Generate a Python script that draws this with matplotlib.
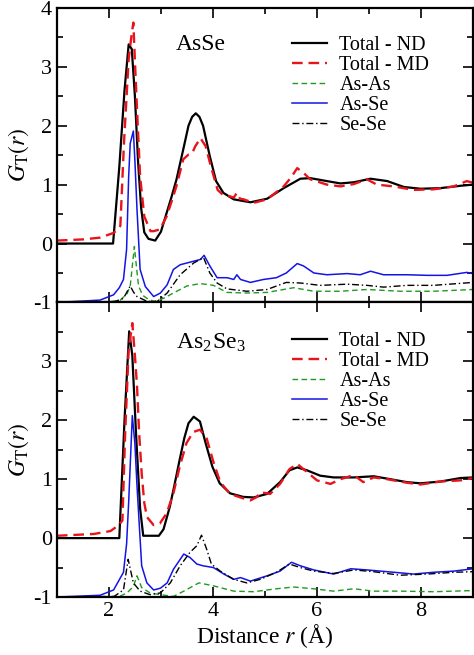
import matplotlib
matplotlib.use("Agg")
import matplotlib.pyplot as plt
from matplotlib.ticker import MultipleLocator

plt.rcParams['font.family'] = ['Liberation Serif', 'DejaVu Serif']
plt.rcParams['mathtext.fontset'] = 'stix'
plt.rcParams['axes.unicode_minus'] = False

# ---------------- Top panel: AsSe ----------------
r_nd1 = [1.0, 2.08, 2.2, 2.3, 2.38, 2.44, 2.50, 2.56, 2.62, 2.68, 2.76, 2.89, 3.0, 3.11, 3.20, 3.30, 3.43, 3.53, 3.60, 3.67, 3.74, 3.81, 3.94, 4.06, 4.20, 4.40, 4.72, 5.04, 5.36, 5.68, 5.87, 6.19, 6.45, 6.71, 7.03, 7.35, 7.67, 7.99, 8.37, 8.76, 9.0]
g_nd1 = [0.0, 0.0, 1.3, 2.6, 3.38, 3.3, 2.5, 1.4, 0.6, 0.19, 0.08, 0.05, 0.2, 0.52, 0.78, 1.09, 1.6, 2.0, 2.15, 2.21, 2.15, 2.0, 1.48, 1.06, 0.86, 0.75, 0.70, 0.76, 0.94, 1.10, 1.11, 1.06, 1.02, 1.04, 1.10, 1.06, 0.96, 0.93, 0.94, 0.98, 1.0]

r_md1 = [1.0, 1.5, 1.83, 2.09, 2.17, 2.22, 2.29, 2.38, 2.43, 2.47, 2.50, 2.54, 2.60, 2.68, 2.80, 2.86, 2.98, 3.11, 3.20, 3.30, 3.43, 3.53, 3.60, 3.66, 3.76, 3.86, 3.96, 4.09, 4.20, 4.33, 4.40, 4.46, 4.52, 4.59, 4.78, 5.04, 5.36, 5.50, 5.62, 5.74, 5.87, 6.19, 6.45, 6.71, 6.96, 7.15, 7.47, 7.86, 8.24, 8.63, 8.88, 9.0]
g_md1 = [0.05, 0.07, 0.1, 0.18, 0.24, 0.3, 1.71, 3.13, 3.5, 3.75, 3.1, 2.28, 1.14, 0.46, 0.21, 0.21, 0.24, 0.46, 0.7, 0.98, 1.43, 1.51, 1.53, 1.65, 1.79, 1.65, 1.31, 0.91, 0.82, 0.80, 0.78, 0.86, 0.76, 0.75, 0.69, 0.75, 0.97, 1.12, 1.28, 1.2, 1.09, 1.0, 0.97, 1.01, 1.09, 1.0, 0.97, 0.91, 0.92, 0.97, 1.06, 1.03]

r_asas1 = [1.0, 2.0, 2.22, 2.35, 2.41, 2.46, 2.49, 2.53, 2.57, 2.65, 2.73, 2.86, 3.05, 3.24, 3.50, 3.76, 4.01, 4.27, 4.65, 5.04, 5.55, 5.94, 6.45, 6.96, 7.60, 8.24, 9.0]
g_asas1 = [-1.0, -0.99, -0.96, -0.85, -0.72, -0.3, -0.05, -0.4, -0.72, -0.88, -0.93, -0.98, -0.93, -0.84, -0.72, -0.68, -0.71, -0.83, -0.84, -0.83, -0.75, -0.81, -0.81, -0.78, -0.81, -0.81, -0.78]

r_asse1 = [1.0, 1.83, 2.09, 2.20, 2.28, 2.34, 2.38, 2.41, 2.47, 2.50, 2.54, 2.60, 2.70, 2.86, 2.99, 3.12, 3.24, 3.37, 3.50, 3.63, 3.76, 3.83, 3.94, 4.08, 4.27, 4.40, 4.46, 4.53, 4.72, 4.97, 5.22, 5.41, 5.62, 5.74, 5.94, 6.19, 6.58, 6.83, 7.03, 7.28, 7.73, 8.12, 8.50, 8.88, 9.0]
g_asse1 = [-1.0, -0.96, -0.87, -0.75, -0.61, -0.1, 1.14, 1.7, 1.91, 1.4, 0.58, -0.44, -0.73, -0.9, -0.84, -0.70, -0.44, -0.36, -0.33, -0.30, -0.27, -0.2, -0.38, -0.58, -0.58, -0.61, -0.53, -0.61, -0.66, -0.61, -0.58, -0.50, -0.34, -0.38, -0.50, -0.53, -0.51, -0.53, -0.47, -0.53, -0.53, -0.54, -0.54, -0.49, -0.51]

r_sese1 = [1.0, 2.1, 2.28, 2.36, 2.41, 2.47, 2.54, 2.73, 2.92, 3.12, 3.37, 3.63, 3.82, 3.94, 4.08, 4.27, 4.65, 5.04, 5.41, 5.68, 6.06, 6.58, 6.96, 7.28, 7.73, 8.24, 9.0]
g_sese1 = [-1.0, -0.99, -0.93, -0.8, -0.72, -0.82, -0.9, -0.98, -0.99, -0.84, -0.53, -0.33, -0.24, -0.5, -0.67, -0.77, -0.81, -0.78, -0.66, -0.67, -0.71, -0.69, -0.71, -0.74, -0.71, -0.71, -0.66]

# ---------------- Bottom panel: As2Se3 ----------------
r_nd2 = [1.0, 2.20, 2.30, 2.39, 2.45, 2.52, 2.60, 2.66, 2.96, 3.05, 3.17, 3.26, 3.36, 3.45, 3.53, 3.63, 3.75, 3.86, 3.99, 4.13, 4.33, 4.58, 4.78, 5.04, 5.29, 5.47, 5.62, 5.81, 6.06, 6.32, 6.71, 7.09, 7.41, 7.73, 7.99, 8.37, 8.76, 9.0]
g_nd2 = [0.0, 0.0, 2.0, 3.51, 3.1, 1.8, 0.5, 0.04, 0.04, 0.15, 0.53, 0.9, 1.33, 1.7, 1.95, 2.06, 1.98, 1.61, 1.21, 0.93, 0.76, 0.70, 0.69, 0.75, 0.95, 1.15, 1.20, 1.15, 1.06, 1.03, 1.03, 1.05, 1.0, 0.95, 0.93, 0.96, 1.02, 1.03]

r_md2 = [1.0, 1.71, 2.03, 2.19, 2.26, 2.31, 2.38, 2.45, 2.50, 2.54, 2.58, 2.63, 2.68, 2.73, 2.86, 2.98, 3.11, 3.24, 3.36, 3.49, 3.62, 3.75, 3.88, 4.01, 4.14, 4.33, 4.53, 4.72, 4.85, 4.91, 5.10, 5.29, 5.47, 5.62, 5.81, 6.00, 6.26, 6.45, 6.71, 6.89, 7.09, 7.35, 7.73, 7.99, 8.37, 8.76, 9.0]
g_md2 = [0.04, 0.07, 0.12, 0.22, 0.3, 1.72, 3.2, 3.65, 3.1, 2.59, 1.8, 1.1, 0.6, 0.36, 0.22, 0.25, 0.42, 0.76, 1.21, 1.61, 1.8, 1.84, 1.69, 1.29, 0.95, 0.75, 0.69, 0.64, 0.7, 0.78, 0.75, 0.92, 1.17, 1.26, 1.12, 0.98, 0.92, 1.0, 1.07, 0.95, 1.03, 1.0, 0.94, 0.91, 0.96, 0.98, 1.02]

r_asas2 = [1.0, 2.2, 2.35, 2.47, 2.54, 2.63, 2.79, 2.99, 3.24, 3.44, 3.73, 4.01, 4.40, 4.78, 5.22, 5.55, 5.94, 6.32, 6.71, 7.09, 7.60, 8.24, 9.0]
g_asas2 = [-1.0, -0.99, -0.93, -0.82, -0.64, -0.84, -0.93, -0.96, -0.99, -0.90, -0.76, -0.81, -0.90, -0.91, -0.86, -0.83, -0.86, -0.90, -0.86, -0.90, -0.90, -0.91, -0.89]

r_asse2 = [1.0, 1.83, 2.09, 2.28, 2.34, 2.38, 2.45, 2.50, 2.54, 2.63, 2.73, 2.86, 2.99, 3.12, 3.24, 3.44, 3.56, 3.69, 3.81, 4.01, 4.21, 4.40, 4.53, 4.72, 5.04, 5.29, 5.51, 5.68, 5.94, 6.32, 6.65, 6.96, 7.35, 7.86, 8.24, 8.63, 9.0]
g_asse2 = [-1.0, -0.97, -0.88, -0.58, -0.1, 0.61, 2.08, 1.6, 0.89, -0.47, -0.76, -0.88, -0.85, -0.76, -0.53, -0.27, -0.33, -0.44, -0.47, -0.5, -0.61, -0.70, -0.67, -0.73, -0.64, -0.56, -0.41, -0.47, -0.54, -0.61, -0.52, -0.54, -0.57, -0.61, -0.58, -0.56, -0.52]

r_sese2 = [1.0, 2.1, 2.28, 2.37, 2.47, 2.60, 2.79, 2.99, 3.18, 3.37, 3.56, 3.69, 3.78, 3.88, 3.97, 4.14, 4.40, 4.65, 4.91, 5.22, 5.47, 5.68, 5.94, 6.32, 6.71, 7.09, 7.60, 8.12, 8.63, 9.0]
g_sese2 = [-1.0, -0.99, -0.88, -0.36, -0.76, -0.90, -0.96, -0.93, -0.76, -0.47, -0.24, -0.13, 0.05, -0.19, -0.44, -0.56, -0.70, -0.76, -0.70, -0.58, -0.44, -0.50, -0.56, -0.60, -0.54, -0.57, -0.63, -0.61, -0.58, -0.57]

labels = ['Total - ND', 'Total - MD', 'As-As', 'As-Se', 'Se-Se']
titles = ['AsSe', r'As$_{\mathregular{2}}$Se$_{\mathregular{3}}$']

fig = plt.figure(figsize=(4.74, 6.55), dpi=100)
axes = fig.subplots(2, 1, sharex=True, gridspec_kw=dict(hspace=0))
fig.subplots_adjust(left=0.120, right=0.998, top=0.988, bottom=0.0885)

panels = [
    (r_nd1, g_nd1, r_md1, g_md1, r_asas1, g_asas1, r_asse1, g_asse1, r_sese1, g_sese1),
    (r_nd2, g_nd2, r_md2, g_md2, r_asas2, g_asas2, r_asse2, g_asse2, r_sese2, g_sese2),
]

for i, (ax, p) in enumerate(zip(axes, panels)):
    ax.plot(p[0], p[1], color='black', lw=1.6, label=labels[0])
    ax.plot(p[2], p[3], color='#e8141c', lw=1.7, ls=(0, (4.5, 2.5)), label=labels[1])
    ax.plot(p[4], p[5], color='#1f9a1f', lw=1.0, ls=(0, (4, 2.5)), label=labels[2])
    ax.plot(p[6], p[7], color='#1414e6', lw=1.1, label=labels[3])
    ax.plot(p[8], p[9], color='black', lw=1.0, ls=(0, (5, 2, 1, 2)), label=labels[4])
    ax.set_xlim(1, 9)
    ax.set_ylim(-1, 4)
    ax.xaxis.set_major_locator(MultipleLocator(2))
    ax.xaxis.set_minor_locator(MultipleLocator(1))
    ax.yaxis.set_minor_locator(MultipleLocator(0.5))
    if i == 0:
        yt = [-1, 0, 1, 2, 3, 4]
    else:
        yt = [-1, 0, 1, 2, 3]
    ax.set_yticks(yt)
    ax.set_yticklabels([str(v) for v in yt])
    ax.tick_params(which='both', direction='in', top=True, right=True, labelsize=16, width=1.2)
    ax.tick_params(which='major', length=7)
    ax.tick_params(which='minor', length=4)
    for s in ax.spines.values():
        s.set_linewidth(1.6)
    ax.set_ylabel(r'$G_{\mathrm{T}}(r)$', fontsize=17, labelpad=2)
    ax.legend(loc='upper left', bbox_to_anchor=(0.565, 0.905 if i == 0 else 0.90),
              frameon=False, fontsize=14.5, handlelength=1.75, handletextpad=0.6,
              labelspacing=0.05, borderaxespad=0, borderpad=0)
    ax.text(0.286, 0.875 if i == 0 else 0.862, titles[i], transform=ax.transAxes,
            fontsize=17, ha='left', va='center')

axes[0].tick_params(labelbottom=False)
axes[1].set_xticks([2, 4, 6, 8])
axes[1].set_xticklabels(['2', '4', '6', '8'])
axes[1].set_xlabel('Distance $r$ (Å)', fontsize=17, labelpad=1)

fig.savefig('out.png', dpi=100)
